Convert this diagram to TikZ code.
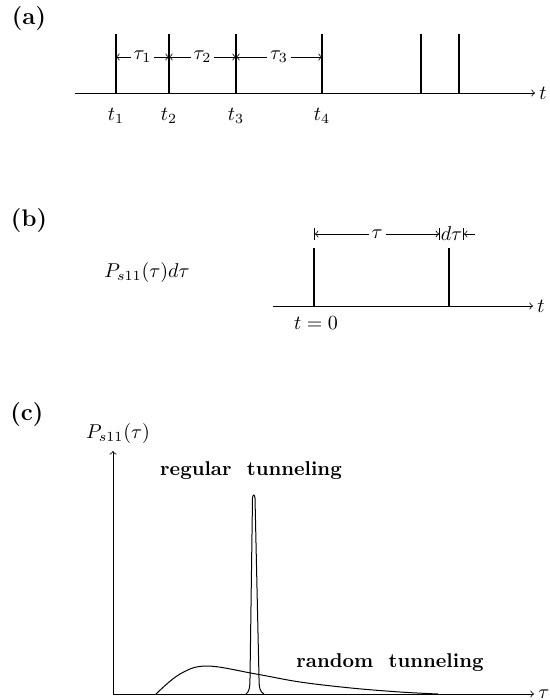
\documentclass[tikz,border=0pt]{standalone}
\usepackage{amsmath,amssymb}
\usepackage{tikz}
\usetikzlibrary{arrows,positioning}

\begin{document}
\begin{tikzpicture}[
    x=0.5pt, y=-0.5pt,
    panel/.style={font=\large\bfseries, inner sep=0pt},
    axis/.style={->, line width=0.4pt},
    pulse/.style={line width=0.8pt},
    span/.style={<->, line width=0.4pt},
    gap/.style={fill=white, inner sep=1.5pt},
    curve/.style={line width=0.5pt}
]
    \useasboundingbox (0,0) rectangle (550,700);

    % (a) sequence of tunneling events
    \node[panel] (lba) at (29,19) {(a)};
    \coordinate (a0) at (75,93);
    \coordinate (a1) at (535,93);
    \draw[axis] (a0) -- (a1) node[right, inner sep=2pt] (ta) {$t$};
    \foreach \x/\n in {116/1,169/2,236/3,322/4,421/5,459/6}
        \draw[pulse] (\x,34) coordinate (top\n) -- (\x,93) coordinate (bot\n);
    \foreach \n/\x in {1/116,2/169,3/236,4/322}
        \node (t\n) at (\x,116) {$t_\n$};
    \draw[span] (116,57) -- node[gap] (tau1) {$\tau_1$} (169,57);
    \draw[span] (169,57) -- node[gap] (tau2) {$\tau_2$} (236,57);
    \draw[span] (236,57) -- node[gap] (tau3) {$\tau_3$} (322,57);

    % (b) waiting time
    \node[panel] (lbb) at (29,221) {(b)};
    \node (pdt) at (147,272) {$P_{s11}(\tau)d\tau$};
    \coordinate (b0) at (273,306);
    \coordinate (b1) at (533,306);
    \draw[axis] (b0) -- (b1) node[right, inner sep=2pt] (tb) {$t$};
    \draw[pulse] (314,248) coordinate (bs) -- (314,306);
    \draw[pulse] (449,248) coordinate (be) -- (449,306);
    \node (t0) at (316,323) {$t=0$};
    \draw[|<->|, line width=0.4pt] (314,234) -- node[gap] (tau) {$\tau$} (440,234);
    \node[inner sep=0pt] (dtau) at (451.5,234) {$d\tau$};
    \draw[|<-, line width=0.4pt] (463,234) -- (475,234);

    % (c) distribution
    \node[panel] (lbc) at (27,415) {(c)};
    \coordinate (o) at (113,694);
    \coordinate (ytop) at (113,451);
    \coordinate (xend) at (534,694);
    \draw[axis] (o) -- (ytop);
    \draw[axis] (o) -- (xend) node[right, inner sep=2pt] (tauax) {$\tau$};
    \node (pax) at (118,433) {$P_{s11}(\tau)$};
    \node[font=\bfseries] (reg) at (251,471) {regular\ \ tunneling};
    \node[font=\bfseries] (rnd) at (390,663) {random\ \ tunneling};
    % sharp peak
    \draw[curve] (246,694) .. controls (249,692) and (250,688) .. (250,678)
        -- (252.5,498) .. controls (253,494) and (254.5,494) .. (255,498)
        -- (259,678) .. controls (259,688) and (260,692) .. (264,694);
    % broad hump
    \draw[curve] plot[smooth, tension=0.6] coordinates
        {(156,694) (180,674) (207,666) (256,674) (300,682) (351,688) (400,692) (438,694)};
\end{tikzpicture}
\end{document}
